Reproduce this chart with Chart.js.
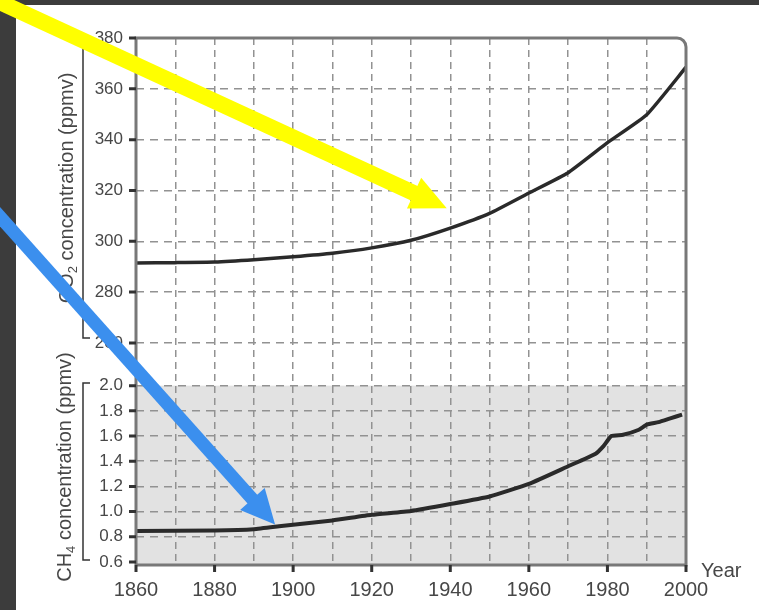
<!DOCTYPE html>
<html>
<head>
<meta charset="utf-8">
<title>CO2 and CH4 concentration, 1860-2000</title>
<script src="https://cdn.jsdelivr.net/npm/chart.js@4.4.1/dist/chart.umd.min.js"></script>
<style>
  html, body { margin: 0; padding: 0; background: #fff; overflow: hidden; }
  #wrap { position: relative; width: 759px; height: 610px; }
</style>
</head>
<body>
<div id="wrap"><canvas id="gasChart"></canvas></div>
<script>
// --- values ---
const co2Years  = [1860, 1870, 1880, 1890, 1900, 1910, 1920, 1930, 1940, 1950, 1960, 1970, 1980, 1990, 2000];
const co2Values = [291.5, 291.6, 291.8, 292.7, 293.9, 295.3, 297.4, 300.4, 305.2, 311.0, 319.0, 327.0, 338.8, 349.8, 368.5];

const ch4Years  = [1860, 1880, 1890, 1897, 1910, 1920, 1930, 1940, 1950, 1960, 1970, 1977, 1979, 1981, 1984, 1988, 1990, 1993, 1996, 1999];
const ch4Values = [0.845, 0.85, 0.86, 0.885, 0.93, 0.975, 1.005, 1.06, 1.12, 1.22, 1.36, 1.46, 1.52, 1.60, 1.61, 1.65, 1.69, 1.71, 1.74, 1.77];

const co2Ticks   = [260, 280, 300, 320, 340, 360, 380];
const ch4Ticks   = [0.6, 0.8, 1.0, 1.2, 1.4, 1.6, 1.8, 2.0];
const yearLabels = [1860, 1880, 1900, 1920, 1940, 1960, 1980, 2000];

// arrows pasted over the figure, anchored in data units (year, value)
const yellowArrow = { from: [1820.3, 397.7], to: [1939.1, 313.0] };           // both on CO2 axis
const blueArrow   = { from: [1820.3, 318.4], to: [1895.4, 0.898] };           // CO2 axis -> CH4 axis

const FONT = '"Liberation Sans", Arial, sans-serif';
const TEXT = '#474747';
const GRID = '#929292';

Chart.defaults.font.family = FONT;
Chart.defaults.color = TEXT;

function drawArrow(ctx, x0, y0, x1, y1, shaft, headLen, headHalf, color) {
    const dx = x1 - x0, dy = y1 - y0;
    const len = Math.hypot(dx, dy);
    const ux = dx / len, uy = dy / len;
    const bx = x1 - ux * headLen, by = y1 - uy * headLen;
    ctx.save();
    ctx.strokeStyle = color;
    ctx.fillStyle = color;
    ctx.lineWidth = shaft;
    ctx.lineCap = 'butt';
    ctx.beginPath();
    ctx.moveTo(x0, y0);
    ctx.lineTo(bx + ux * 2, by + uy * 2);
    ctx.stroke();
    ctx.beginPath();
    ctx.moveTo(x1, y1);
    ctx.lineTo(bx - uy * headHalf, by + ux * headHalf);
    ctx.lineTo(bx + uy * headHalf, by - ux * headHalf);
    ctx.closePath();
    ctx.fill();
    ctx.restore();
}

function drawRotatedTitle(ctx, x, yCenter, main, sub, rest) {
    ctx.save();
    ctx.translate(x, yCenter);
    ctx.rotate(-Math.PI / 2);
    ctx.fillStyle = TEXT;
    ctx.textBaseline = 'middle';
    ctx.textAlign = 'left';
    ctx.font = '20px ' + FONT;
    const w1 = ctx.measureText(main).width;
    const w3 = ctx.measureText(rest).width;
    ctx.font = '13px ' + FONT;
    const w2 = ctx.measureText(sub).width;
    let cx = -(w1 + w2 + w3) / 2;
    ctx.font = '20px ' + FONT;
    ctx.fillText(main, cx, 0);
    cx += w1;
    ctx.font = '13px ' + FONT;
    ctx.fillText(sub, cx, 6);
    cx += w2;
    ctx.font = '20px ' + FONT;
    ctx.fillText(rest, cx, 0);
    ctx.restore();
}

const paperPlugin = {
    id: 'paper',
    beforeDraw(chart) {
        const { ctx, width, height, chartArea: a, scales } = chart;
        ctx.save();
        // dark surround of the scan
        ctx.fillStyle = '#3c3c3c';
        ctx.fillRect(0, 0, width, height);
        ctx.fillStyle = '#ffffff';
        ctx.fillRect(16, 5, width - 16, height - 5);
        // grey panel behind the methane curve
        const top = scales.ch4.getPixelForValue(2.0);
        ctx.fillStyle = '#e2e2e2';
        ctx.fillRect(a.left, top, a.right - a.left, a.bottom - top);
        ctx.restore();
    },
    afterDraw(chart) {
        const { ctx, chartArea: a, scales } = chart;
        ctx.save();

        // plot frame with rounded top-right corner
        const r = 9;
        ctx.strokeStyle = '#787878';
        ctx.lineWidth = 3;
        ctx.beginPath();
        ctx.moveTo(a.left, a.bottom);
        ctx.lineTo(a.left, a.top);
        ctx.lineTo(a.right - r, a.top);
        ctx.arcTo(a.right, a.top, a.right, a.top + r, r);
        ctx.lineTo(a.right, a.bottom);
        ctx.lineTo(a.left, a.bottom);
        ctx.stroke();

        // short dark tick marks on the axes
        ctx.strokeStyle = '#333333';
        ctx.lineWidth = 3;
        ctx.beginPath();
        co2Ticks.forEach(v => {
            const y = scales.co2.getPixelForValue(v);
            ctx.moveTo(a.left - 7, y);
            ctx.lineTo(a.left, y);
        });
        ch4Ticks.forEach(v => {
            const y = scales.ch4.getPixelForValue(v);
            ctx.moveTo(a.left - 7, y);
            ctx.lineTo(a.left, y);
        });
        yearLabels.forEach(v => {
            const x = scales.x.getPixelForValue(v);
            ctx.moveTo(x, a.bottom);
            ctx.lineTo(x, a.bottom + 7);
        });
        ctx.stroke();

        // brackets next to the axis titles
        ctx.strokeStyle = '#333';
        ctx.lineWidth = 1.5;
        ctx.beginPath();
        ctx.moveTo(83, 48);
        ctx.lineTo(83, 338);
        ctx.lineTo(90, 338);
        ctx.stroke();
        ctx.beginPath();
        ctx.moveTo(90, 383);
        ctx.lineTo(83, 383);
        ctx.lineTo(83, 560);
        ctx.lineTo(90, 560);
        ctx.stroke();

        drawRotatedTitle(ctx, 67, 188, 'CO', '2', ' concentration (ppmv)');
        drawRotatedTitle(ctx, 65, 467, 'CH', '4', ' concentration (ppmv)');

        // "Year" at the end of the x axis
        ctx.fillStyle = TEXT;
        ctx.font = '20px ' + FONT;
        ctx.textAlign = 'left';
        ctx.textBaseline = 'middle';
        ctx.fillText('Year', a.right + 15, a.bottom + 6);
        ctx.restore();

        // arrows
        const x = scales.x, co2 = scales.co2, ch4 = scales.ch4;
        drawArrow(ctx,
            x.getPixelForValue(yellowArrow.from[0]), co2.getPixelForValue(yellowArrow.from[1]),
            x.getPixelForValue(yellowArrow.to[0]), co2.getPixelForValue(yellowArrow.to[1]),
            16, 36, 17, '#ffff00');
        drawArrow(ctx,
            x.getPixelForValue(blueArrow.from[0]), co2.getPixelForValue(blueArrow.from[1]),
            x.getPixelForValue(blueArrow.to[0]), ch4.getPixelForValue(blueArrow.to[1]),
            13, 34, 16.5, '#3b8fee');
    }
};

const ctx = document.getElementById('gasChart').getContext('2d');

new Chart(ctx, {
    type: 'line',
    data: {
        datasets: [
            {
                label: 'CO2',
                data: co2Years.map((yr, i) => ({ x: yr, y: co2Values[i] })),
                yAxisID: 'co2',
                borderColor: '#2a2a2a',
                borderWidth: 3.5,
                pointRadius: 0,
                tension: 0.15,
                fill: false
            },
            {
                label: 'CH4',
                data: ch4Years.map((yr, i) => ({ x: yr, y: ch4Values[i] })),
                yAxisID: 'ch4',
                borderColor: '#2a2a2a',
                borderWidth: 4,
                pointRadius: 0,
                tension: 0.15,
                fill: false
            }
        ]
    },
    options: {
        responsive: true,
        maintainAspectRatio: false,
        animation: false,
        events: [],
        layout: { padding: { left: 16, top: 38, right: 73, bottom: 0 } },
        plugins: {
            legend: { display: false },
            tooltip: { enabled: false }
        },
        scales: {
            x: {
                type: 'linear',
                min: 1860,
                max: 2000,
                border: { display: false, dash: [7, 5] },
                grid: {
                    color: c => (c.tick && (c.tick.value === 1860 || c.tick.value === 2000)) ? 'rgba(0,0,0,0)' : GRID,
                    lineWidth: 1.5,
                    drawTicks: true,
                    tickLength: 7,
                    tickColor: 'rgba(0,0,0,0)'
                },
                ticks: {
                    stepSize: 10,
                    autoSkip: false,
                    maxRotation: 0,
                    padding: 6,
                    font: { size: 20 },
                    color: TEXT,
                    callback: v => yearLabels.includes(v) ? String(v) : ''
                },
                afterFit: s => { s.height = 45; }
            },
            co2: {
                type: 'linear',
                position: 'left',
                stack: 'gas',
                stackWeight: 325,
                weight: 2,
                min: 252.1,
                max: 380,
                afterBuildTicks: s => { s.ticks = co2Ticks.map(v => ({ value: v })); },
                border: { display: false, dash: [8, 6] },
                grid: {
                    color: c => (c.tick && c.tick.value === 380) ? 'rgba(0,0,0,0)' : GRID,
                    lineWidth: 1.5,
                    tickLength: 6,
                    tickColor: 'rgba(0,0,0,0)'
                },
                ticks: {
                    autoSkip: false,
                    padding: 7,
                    font: { size: 17 },
                    color: TEXT,
                    callback: v => String(v)
                },
                afterFit: s => { s.width = 120; }
            },
            ch4: {
                type: 'linear',
                position: 'left',
                stack: 'gas',
                stackWeight: 202,
                weight: 1,
                min: 0.576,
                max: 2.18,
                afterBuildTicks: s => { s.ticks = ch4Ticks.map(v => ({ value: v })); },
                border: { display: false, dash: [8, 6] },
                grid: {
                    color: c => (c.tick && c.tick.value === 0.6) ? 'rgba(0,0,0,0)' : GRID,
                    lineWidth: 1.5,
                    tickLength: 6,
                    tickColor: 'rgba(0,0,0,0)'
                },
                ticks: {
                    autoSkip: false,
                    padding: 7,
                    font: { size: 17 },
                    color: TEXT,
                    callback: v => Number(v).toFixed(1)
                },
                afterFit: s => { s.width = 120; }
            }
        }
    },
    plugins: [paperPlugin]
});
</script>
</body>
</html>
